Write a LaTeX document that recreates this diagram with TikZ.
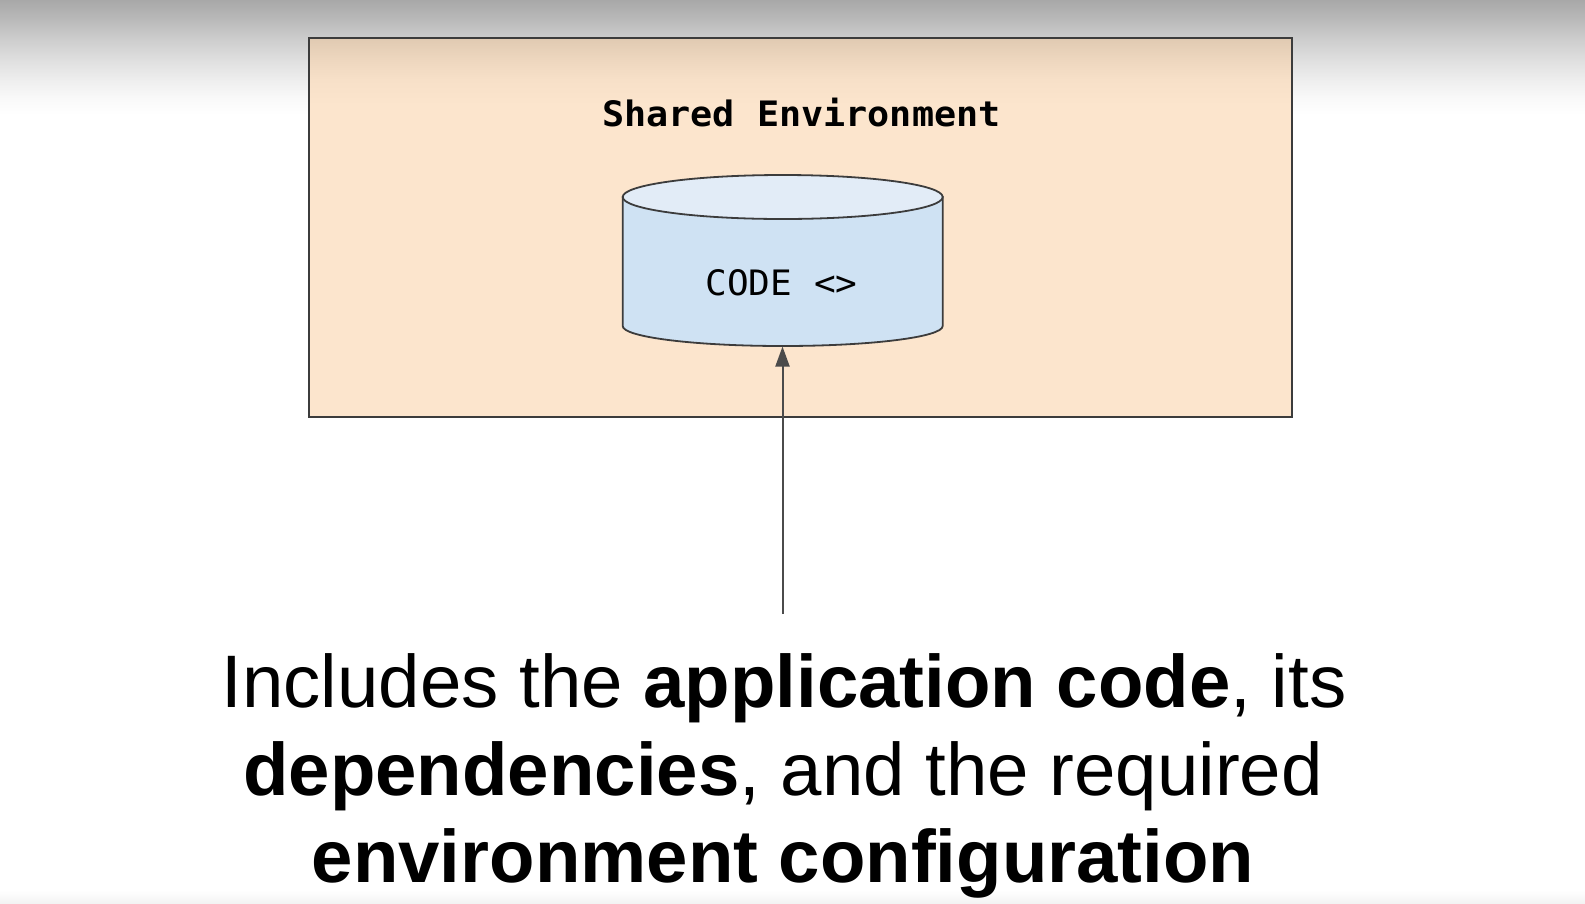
\documentclass[tikz,border=0pt]{standalone}
\usepackage{fontspec}
\setmainfont{Liberation Sans}
\newfontfamily\monobold[FakeStretch=1.05]{DejaVu Sans Mono Bold}
\newfontfamily\monoreg[FakeStretch=1.03]{DejaVu Sans Mono}
\usetikzlibrary{arrows.meta}

% palette
\definecolor{peach}{RGB}{252,229,205}
\definecolor{peachB}{RGB}{247,224,200}
\definecolor{peachC}{RGB}{238,215,191}
\definecolor{peachD}{RGB}{224,202,178}
\definecolor{drumbody}{RGB}{207,226,243}
\definecolor{drumtop}{RGB}{226,236,247}
\definecolor{edge}{RGB}{60,60,60}
\definecolor{wire}{RGB}{75,75,75}
\definecolor{gA}{RGB}{168,168,168}
\definecolor{gB}{RGB}{186,186,186}
\definecolor{gC}{RGB}{204,204,204}
\definecolor{gD}{RGB}{223,223,223}
\definecolor{gE}{RGB}{238,238,238}
\definecolor{gF}{RGB}{250,250,250}
\definecolor{gG}{RGB}{243,243,243}

% page background: grey band at the top, faint band at the bottom
\pgfdeclareverticalshading{pageshade}{100bp}{%
  color(0bp)=(gG); color(25bp)=(gG); color(25.7bp)=(white);
  color(68.6bp)=(white); color(69.46bp)=(gF); color(70.57bp)=(gE);
  color(71.68bp)=(gD); color(72.9bp)=(gC); color(73.89bp)=(gB);
  color(75bp)=(gA); color(100bp)=(gA)}
% environment box fill, darkened under the top band
\pgfdeclareverticalshading{envshade}{100bp}{%
  color(0bp)=(peach); color(66.2bp)=(peach); color(69.5bp)=(peachB);
  color(72.1bp)=(peachC); color(75bp)=(peachD); color(100bp)=(peachD)}

\tikzset{
  envbox/.style={draw=edge, line width=2pt, shading=envshade, inner sep=0pt},
  drumline/.style={draw=edge, line width=1.8pt},
  link/.style={draw=wire, line width=2pt, -{Triangle[length=20pt,width=14pt]}},
  caption/.style={anchor=base, inner sep=0pt, font=\fontsize{74.4}{88}\selectfont},
}

\begin{document}
\begin{tikzpicture}[x=1pt,y=-1pt]
  \useasboundingbox (0,0) rectangle (1585,903);
  \shade[shading=pageshade] (0,0) rectangle (1585,903);

  % shared environment container
  \path[envbox] (309,38) rectangle (1292,417);
  \node[anchor=base, inner sep=0pt, font=\monobold\fontsize{35}{35}\selectfont]
    (title) at (801.5,126) {Shared Environment};

  % code store drawn as a drum
  \path[drumline, fill=drumbody]
    (622.7,197) -- (622.7,326)
    arc[start angle=180, end angle=0, x radius=160, y radius=20]
    -- (942.7,197) -- cycle;
  \path[drumline, fill=drumtop] (782.7,197) ellipse[x radius=160, y radius=22];
  \node[anchor=base, inner sep=0pt, font=\monoreg\fontsize{35}{35}\selectfont]
    (code) at (781.5,295) {CODE <>};
  \coordinate (codebase) at (782.5,346.5);
  \coordinate (tail) at (782.5,614);

  \draw[link] (tail) -- (codebase);

  % caption
  \node[caption] (lineA) at (784,707) {Includes the \textbf{application code}, its};
  \node[caption] (lineB) at (783,795) {\textbf{dependencies}, and the required};
  \node[caption] (lineC) at (783,882) {\textbf{environment configuration}};
\end{tikzpicture}
\end{document}
